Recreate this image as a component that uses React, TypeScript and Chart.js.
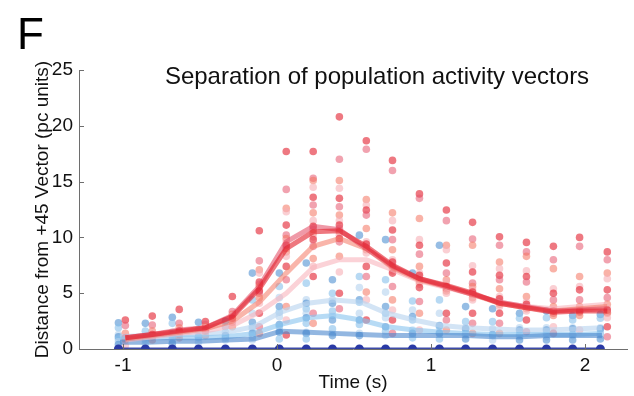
import React, { useEffect, useRef } from "react";
import { Chart, registerables } from "chart.js";

Chart.register(...registerables);

// ---- data ----
const times = [-1.03, -0.855, -0.68, -0.51, -0.335, -0.16, 0.015, 0.19, 0.36, 0.535, 0.705, 0.88, 1.055, 1.225, 1.4, 1.575, 1.75, 1.92, 2.1];
const redShift = 0.045;
const xTicks = [-1, 0, 1, 2];
const yTicks = [0, 5, 10, 15, 20, 25];

const redDark = [1.0, 1.3, 1.6, 1.9, 2.9, 5.4, 9.0, 10.5, 10.6, 9.2, 7.5, 6.3, 5.7, 5.0, 4.1, 3.7, 3.3, 3.4, 3.4];
const redRose = [1.0, 1.3, 1.7, 1.9, 3.0, 5.6, 9.6, 11.0, 10.7, 9.0, 7.4, 6.3, 5.6, 4.9, 4.2, 3.8, 3.4, 3.5, 3.6];
const redSalmon = [0.9, 1.2, 1.5, 1.8, 2.5, 4.2, 6.8, 9.2, 9.9, 9.0, 7.3, 6.2, 5.6, 4.9, 4.1, 3.7, 3.4, 3.6, 3.8];
const redPink = [0.8, 1.1, 1.4, 1.6, 2.1, 3.3, 5.0, 7.3, 8.0, 8.0, 7.1, 6.1, 5.5, 4.9, 4.2, 3.8, 3.6, 3.8, 4.0];
const bluePale = [1.1, 1.2, 1.3, 1.3, 1.5, 2.0, 3.3, 4.1, 4.4, 4.2, 3.2, 2.6, 2.1, 1.9, 1.8, 1.7, 1.7, 1.8, 1.9];
const blueSky = [0.9, 1.0, 1.0, 1.0, 1.1, 1.4, 2.2, 2.8, 3.0, 2.6, 2.0, 1.7, 1.5, 1.4, 1.3, 1.3, 1.3, 1.3, 1.4];
const blueMid = [0.6, 0.6, 0.7, 0.7, 0.8, 0.9, 1.6, 1.5, 1.4, 1.3, 1.2, 1.2, 1.2, 1.2, 1.1, 1.1, 1.2, 1.2, 1.2];
const blueNavy = [0, 0, 0, 0, 0, 0, 0, 0, 0, 0, 0, 0, 0, 0, 0, 0, 0, 0, 0];

const redDots = [
  [2.6, 2.1, 1.4, 1.1, 1.0, 0.9, 0.8, 0.3],
  [2.95, 2.15, 1.6, 1.4, 1.3, 1.1, 0.8],
  [3.55, 2.3, 1.9, 1.7, 1.6, 1.3, 1.0],
  [2.45, 2.2, 2.0, 1.9, 1.7, 1.6, 1.2],
  [4.7, 3.35, 3.1, 3.0, 2.75, 2.4, 2.0],
  [10.6, 7.9, 7.1, 6.8, 6.0, 5.8, 5.6, 5.3, 5.2, 5.0, 4.6, 4.1, 3.2, 2.0, 1.4],
  [17.7, 14.3, 12.6, 12.3, 11.1, 10.2, 9.9, 9.6, 9.3, 9.0, 8.7, 8.3, 7.4, 6.2, 3.8, 2.6, 1.25],
  [17.7, 15.3, 15.1, 14.5, 13.6, 12.9, 12.2, 11.5, 11.0, 10.7, 10.4, 10.05, 9.8, 9.2, 8.1, 7.4, 6.5, 3.2, 2.3],
  [20.8, 17.0, 15.1, 14.4, 13.5, 12.75, 12.0, 11.5, 11.1, 10.8, 10.5, 10.2, 9.9, 9.6, 8.3, 6.9, 5.0, 3.6],
  [18.66, 17.9, 13.4, 12.9, 12.45, 12.0, 10.8, 9.6, 9.4, 9.1, 8.9, 8.6, 7.4, 6.5, 5.1, 4.4, 2.6],
  [16.9, 16.0, 12.2, 11.5, 10.66, 9.8, 8.9, 8.0, 7.8, 7.4, 7.2, 7.0, 6.8, 5.6, 4.4, 3.5, 2.6, 1.4],
  [13.9, 13.5, 11.7, 9.8, 9.3, 8.5, 7.4, 6.8, 6.6, 6.2, 6.0, 5.8, 5.5, 4.25, 3.2, 1.7],
  [12.45, 11.5, 9.3, 8.9, 7.7, 6.8, 6.2, 6.0, 5.6, 5.4, 5.2, 5.0, 3.2, 2.6, 1.7],
  [11.35, 9.85, 9.3, 7.45, 6.9, 5.9, 5.6, 5.3, 5.1, 4.9, 4.6, 4.4, 3.2, 2.3, 1.4],
  [10.05, 9.3, 7.8, 7.2, 6.6, 6.2, 5.4, 4.7, 4.5, 4.2, 4.0, 3.8, 3.2, 2.3, 1.4],
  [9.55, 8.7, 8.3, 7.0, 6.5, 6.0, 4.7, 4.2, 4.0, 3.8, 3.6, 3.4, 2.6, 1.55],
  [9.2, 8.0, 7.2, 5.4, 5.0, 4.4, 3.8, 3.6, 3.4, 3.2, 3.0, 2.0, 1.4],
  [10.0, 9.2, 6.5, 5.6, 5.3, 4.4, 3.8, 3.6, 3.4, 3.3, 3.0, 1.7],
  [8.7, 8.0, 6.8, 6.3, 5.3, 4.6, 4.0, 3.7, 3.5, 3.3, 3.2, 2.8, 2.0, 1.1],
];

const blueDots = [
  [2.35, 1.9, 1.3, 1.1, 0.9, 0.65, 0.4],
  [2.3, 1.6, 1.2, 1.0, 0.8, 0.5],
  [2.85, 2.3, 1.5, 1.3, 1.1, 0.8, 0.5],
  [2.4, 1.7, 1.3, 1.1, 1.0, 0.6],
  [2.5, 2.0, 1.5, 1.2, 1.0, 0.8],
  [6.8, 4.4, 3.2, 2.4, 2.0, 1.8, 1.4, 1.1, 0.8],
  [6.8, 5.6, 4.6, 3.8, 3.3, 2.9, 2.2, 2.0, 1.6, 1.5, 0.9],
  [7.7, 5.9, 4.4, 4.1, 3.6, 3.2, 2.8, 2.3, 1.5, 1.4, 0.9],
  [6.2, 5.0, 4.4, 4.1, 3.4, 3.0, 2.6, 1.8, 1.4, 1.2],
  [10.2, 6.5, 5.5, 4.4, 4.2, 3.2, 2.6, 2.2, 1.4, 1.2],
  [9.8, 6.2, 5.1, 3.8, 3.2, 2.8, 2.0, 1.6, 1.2],
  [6.8, 4.3, 3.5, 2.9, 2.6, 1.7, 1.4, 1.0],
  [9.3, 4.4, 3.2, 2.1, 2.0, 1.5, 1.4, 0.9],
  [3.8, 2.45, 1.9, 1.8, 1.4, 1.2, 0.9],
  [3.6, 2.45, 1.8, 1.3, 1.2, 0.8],
  [3.2, 2.75, 1.9, 1.7, 1.3, 1.1, 0.8],
  [3.4, 2.8, 1.9, 1.7, 1.4, 1.1, 0.8],
  [3.0, 2.6, 1.9, 1.8, 1.3, 1.2, 0.8],
  [3.1, 2.75, 1.9, 1.8, 1.4, 1.2, 0.9],
];

// ---- styles ----
const FONT = "'Liberation Sans', Arial, Helvetica, sans-serif";
const AXIS = "#6e6e6e";
const redDotColors = ["rgba(226,30,45,0.6)", "rgba(230,85,110,0.55)", "rgba(244,115,95,0.55)", "rgba(247,175,182,0.6)"];
const blueDotColors = ["rgba(80,145,210,0.6)", "rgba(135,192,235,0.6)", "rgba(180,210,238,0.6)"];

function lineDs(values: number[], shift: number, color: string, width: number, order: number) {
  return {
    type: "line" as const,
    data: values.map((v, i) => ({ x: times[i] + shift, y: v })),
    borderColor: color,
    borderWidth: width,
    pointRadius: 0,
    tension: 0,
    order,
  };
}

function dotDs(groups: number[][], shift: number, colors: string[], order: number) {
  const pts: { x: number; y: number }[] = [];
  const cols: string[] = [];
  groups.forEach((g, i) => {
    g.forEach((v, k) => {
      pts.push({ x: times[i] + shift, y: v });
      cols.push(colors[k % colors.length]);
    });
  });
  return {
    type: "scatter" as const,
    data: pts,
    pointBackgroundColor: cols,
    pointBorderWidth: 0,
    pointRadius: 3.8,
    showLine: false,
    order,
  };
}

const innerTicks = {
  id: "innerTicks",
  afterDraw(chart: any) {
    const { ctx, scales, chartArea } = chart;
    ctx.save();
    ctx.strokeStyle = AXIS;
    ctx.lineWidth = 1;
    xTicks.forEach((v) => {
      const px = Math.round(scales.x.getPixelForValue(v)) + 0.5;
      ctx.beginPath();
      ctx.moveTo(px, chartArea.bottom);
      ctx.lineTo(px, chartArea.bottom - 5);
      ctx.stroke();
    });
    yTicks.forEach((v) => {
      const py = Math.round(scales.y.getPixelForValue(v)) + 0.5;
      ctx.beginPath();
      ctx.moveTo(chartArea.left, py);
      ctx.lineTo(chartArea.left + 5, py);
      ctx.stroke();
    });
    ctx.restore();
  },
};

export default function App() {
  const ref = useRef<HTMLCanvasElement | null>(null);

  useEffect(() => {
    if (!ref.current) return;
    const chart = new Chart(ref.current, {
      type: "line",
      data: {
        datasets: [
          { ...lineDs(blueNavy, 0, "rgba(40,55,160,0.9)", 3, 0), pointRadius: 4.5, pointBackgroundColor: "rgb(42,58,165)", pointBorderWidth: 0 },
          lineDs(redDark, redShift, "rgba(226,30,42,0.6)", 5, 1),
          lineDs(redRose, redShift, "rgba(225,70,95,0.55)", 5, 1),
          lineDs(redSalmon, redShift, "rgba(244,120,100,0.55)", 5, 1),
          lineDs(redPink, redShift, "rgba(248,180,188,0.6)", 5, 1),
          lineDs(blueMid, 0.01, "rgba(75,135,205,0.6)", 5, 2),
          lineDs(blueSky, 0.01, "rgba(135,195,238,0.6)", 5, 2),
          lineDs(bluePale, 0.01, "rgba(188,214,240,0.65)", 5, 2),
          dotDs(redDots, redShift, redDotColors, 3),
          dotDs(blueDots, 0, blueDotColors, 4),
        ] as any,
      },
      options: {
        animation: false,
        responsive: true,
        maintainAspectRatio: false,
        layout: { padding: { top: 70, right: 7, left: 0, bottom: 0 } },
        plugins: { legend: { display: false }, tooltip: { enabled: false }, title: { display: false } },
        scales: {
          x: {
            type: "linear",
            min: -1.286,
            max: 2.273,
            afterFit: (s: any) => { s.height = 47; },
            afterBuildTicks: (s: any) => { s.ticks = xTicks.map((v) => ({ value: v })); },
            grid: { display: false, drawTicks: false },
            border: { display: true, color: AXIS, width: 1 },
            ticks: { color: "#111", font: { family: FONT, size: 19 }, padding: 5, autoSkip: false, maxRotation: 0 },
            title: { display: true, text: "Time (s)", color: "#111", font: { family: FONT, size: 19 }, padding: { top: 0, bottom: 2 } },
          },
          y: {
            type: "linear",
            min: 0,
            max: 25,
            afterFit: (s: any) => { s.width = 79; },
            afterBuildTicks: (s: any) => { s.ticks = yTicks.map((v) => ({ value: v })); },
            grid: { display: false, drawTicks: false },
            border: { display: true, color: AXIS, width: 1 },
            ticks: { color: "#111", font: { family: FONT, size: 19 }, padding: 6 },
            title: { display: true, text: "Distance from +45 Vector (pc units)", color: "#111", font: { family: FONT, size: 19 }, padding: { top: 31, bottom: 0 } },
          },
        },
      },
      plugins: [innerTicks],
    });
    return () => chart.destroy();
  }, []);

  return (
    <div style={{ position: "absolute", left: 0, top: 0, width: 634, height: 396, background: "#fff" }}>
      <canvas ref={ref} />
      <div style={{ position: "absolute", left: 17, top: 12, fontFamily: FONT, fontSize: 44, lineHeight: "44px", color: "#000" }}>F</div>
      <div style={{ position: "absolute", left: 377, top: 62, transform: "translateX(-50%)", whiteSpace: "nowrap", fontFamily: FONT, fontSize: 24, lineHeight: "28px", color: "#111" }}>
        Separation of population activity vectors
      </div>
    </div>
  );
}
